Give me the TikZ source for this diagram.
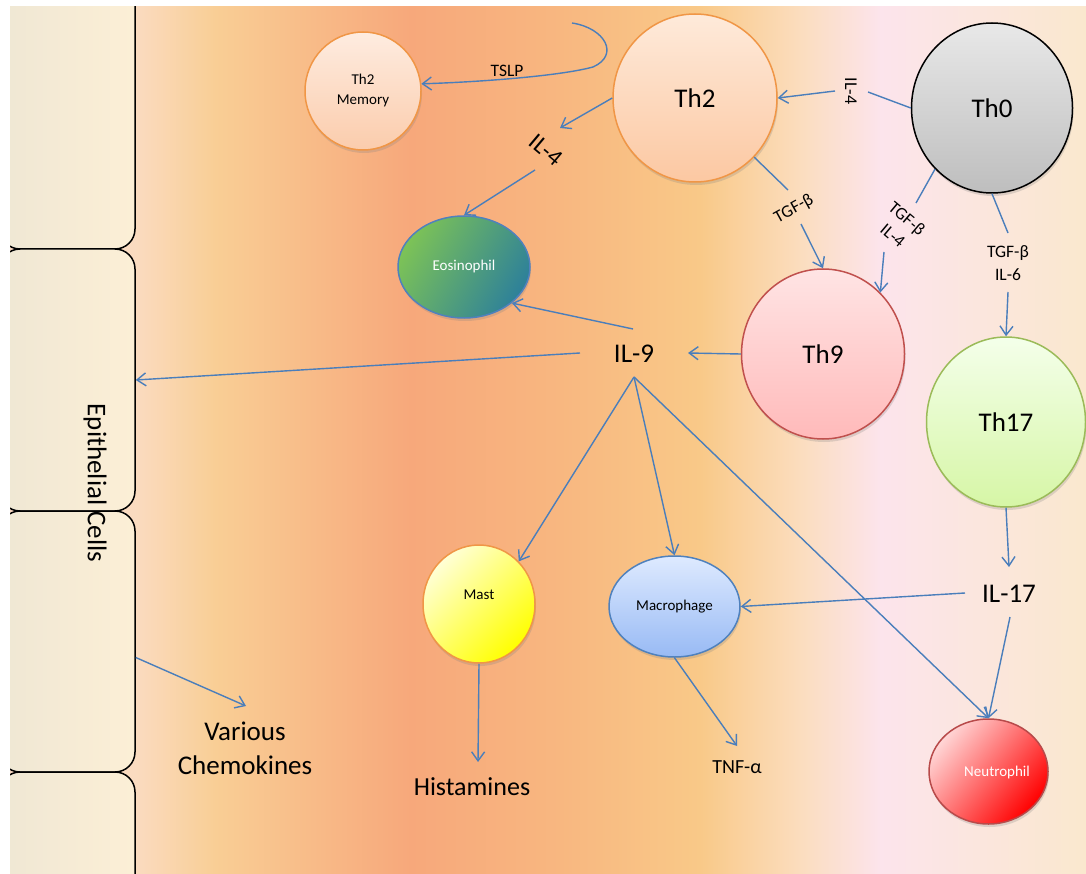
\documentclass[tikz,border=0pt]{standalone}
\usepackage{fontspec}
\setmainfont{Carlito}
\usetikzlibrary{arrows.meta,shapes.geometric,shadows,calc}
\definecolor{arrowblue}{RGB}{74,126,187}
\definecolor{bgA}{HTML}{FAD8C2}
\definecolor{bgB}{HTML}{FADBC0}
\definecolor{bgC}{HTML}{F9CE95}
\definecolor{bgD}{HTML}{F7A87B}
\definecolor{bgE}{HTML}{F8B780}
\definecolor{bgF}{HTML}{F9C988}
\definecolor{bgG}{HTML}{FBDDBE}
\definecolor{bgH}{HTML}{FCE4EC}
\definecolor{bgI}{HTML}{FAE8CE}
\definecolor{cellL}{HTML}{EFE7D4}
\definecolor{cellR}{HTML}{FCEFD6}
\definecolor{orangeb}{RGB}{240,150,70}
\definecolor{thmT}{RGB}{254,236,224}
\definecolor{thmB}{RGB}{251,204,172}
\definecolor{thtwoT}{RGB}{254,234,218}
\definecolor{thtwoB}{RGB}{252,200,162}
\definecolor{thzT}{RGB}{232,232,232}
\definecolor{thzB}{RGB}{190,190,190}
\definecolor{thnT}{RGB}{255,228,228}
\definecolor{thnB}{RGB}{255,186,186}
\definecolor{thnb}{RGB}{192,80,77}
\definecolor{thsT}{RGB}{244,255,234}
\definecolor{thsB}{RGB}{214,246,166}
\definecolor{thsb}{RGB}{155,187,89}
\definecolor{eosG}{RGB}{124,194,87}
\definecolor{eosT}{RGB}{46,129,153}
\definecolor{blueb}{RGB}{79,129,189}
\definecolor{mastT}{RGB}{255,255,214}
\definecolor{mastB}{RGB}{255,255,0}
\definecolor{macT}{RGB}{222,234,255}
\definecolor{macB}{RGB}{152,186,244}
\definecolor{neuT}{RGB}{255,214,214}
\definecolor{neuB}{RGB}{255,0,0}
\definecolor{neub}{RGB}{184,74,74}
\newcommand\fsz[2]{\fontsize{#1pt}{#2pt}\selectfont}
\tikzset{
  arr/.style={draw=arrowblue, line width=1.4pt, -{Straight Barb[length=9pt,width=13pt]}},
  ln/.style={draw=arrowblue, line width=1.4pt},
  cellnode/.style={ellipse, inner sep=0pt, line width=1.5pt,
    drop shadow={shadow xshift=1pt, shadow yshift=-3pt, opacity=0.25}},
  epicell/.style={rectangle, rounded corners=20pt, draw=black, line width=1.5pt,
    left color=cellL, right color=cellR, minimum width=135pt, inner sep=0pt},
  lbl/.style={inner sep=0pt, text=black},
}
\begin{document}
\begin{tikzpicture}[x=1pt,y=-1pt]
\useasboundingbox (0,0) rectangle (1086,874);
\fill[white] (0,0) rectangle (1086,874);
% background
\fill[left color=bgA,right color=bgB] (10,7) rectangle (135.6,874);
\fill[left color=bgB,right color=bgC] (135,7) rectangle (215.6,874);
\fill[left color=bgC,right color=bgD] (215,7) rectangle (410.6,874);
\fill[left color=bgD,right color=bgE] (410,7) rectangle (560.6,874);
\fill[left color=bgE,right color=bgF] (560,7) rectangle (700.6,874);
\fill[left color=bgF,right color=bgG] (700,7) rectangle (800.6,874);
\fill[left color=bgG,right color=bgH] (800,7) rectangle (880.6,874);
\fill[left color=bgH,right color=bgI] (880,7) rectangle (1086,874);
% epithelial cells
\begin{scope}
\clip (10,7) rectangle (1086,874);
\node[epicell, minimum height=279pt] (cell1) at (67.5,109.5) {};
\node[epicell, minimum height=262pt] (cell2) at (67.5,380) {};
\node[epicell, minimum height=261pt] (cell3) at (67.5,641.5) {};
\node[epicell, minimum height=228pt] (cell4) at (67.5,886) {};
\end{scope}
\node[lbl, rotate=-90, font=\fsz{27}{32}] (epi) at (95,483) {Epithelial Cells};
% cells
\node[cellnode, draw=orangeb, top color=thmT, bottom color=thmB, minimum width=116pt, minimum height=118pt, align=center, font=\fsz{15}{20}] (thm) at (363,91) {Th2\\Memory};
\node[cellnode, draw=orangeb, top color=thtwoT, bottom color=thtwoB, minimum width=164pt, minimum height=168pt, font=\fsz{27}{32}] (th2) at (695,98) {Th2};
\node[cellnode, draw=black, top color=thzT, bottom color=thzB, minimum width=161pt, minimum height=170pt, font=\fsz{27}{32}] (th0) at (992,108) {Th0};
\node[cellnode, draw=thnb, top color=thnT, bottom color=thnB, minimum width=163pt, minimum height=170pt, font=\fsz{27}{32}] (th9) at (823,354) {Th9};
\node[cellnode, draw=thsb, top color=thsT, bottom color=thsB, minimum width=159pt, minimum height=170pt, font=\fsz{27}{32}] (th17) at (1006,422) {Th17};
\node[cellnode, draw=blueb, top color=eosG, bottom color=eosT, shading angle=60, minimum width=132pt, minimum height=102pt, text=white, font=\fsz{15}{18}] (eos) at (464,267) {Eosinophil};
\node[cellnode, draw=orangeb, top color=mastT, bottom color=mastB, shading angle=45, minimum width=112pt, minimum height=118pt] (mast) at (479,604) {};
\node[lbl, font=\fsz{15}{18}] (masttxt) at (479,595) {Mast};
\node[cellnode, draw=blueb, top color=macT, bottom color=macB, minimum width=131pt, minimum height=101pt, font=\fsz{15}{18}] (mac) at (674.5,606.5) {Macrophage};
\node[cellnode, draw=neub, top color=neuT, bottom color=neuB, shading angle=50, minimum width=119pt, minimum height=105pt] (neu) at (988.5,771.5) {};
\node[lbl, text=white, font=\fsz{15}{18}] (neutxt) at (997,772) {Neutrophil};
% labels
\node[lbl, font=\fsz{17.5}{21}] (tslp) at (507,71) {TSLP};
\node[lbl, font=\fsz{24}{28}, rotate=-40] (il4b) at (546,150) {IL-4};
\node[lbl, font=\fsz{27}{32}] (il9) at (634,354) {IL-9};
\node[lbl, font=\fsz{27}{32}] (il17) at (1009,594) {IL-17};
\node[lbl, font=\fsz{18}{21}, rotate=-90] (il4a) at (851,91) {IL-4};
\node[lbl, font=\fsz{17.5}{21}, rotate=29] (tgf1) at (794,209) {TGF-β};
\node[lbl, font=\fsz{17.5}{22}, rotate=-40, align=center] (tgf2) at (900,227) {TGF-β\\IL-4};
\node[lbl, font=\fsz{17.5}{23}, align=center] (tgf3) at (1008,263) {TGF-β\\IL-6};
\node[lbl, font=\fsz{26}{31}] (hist) at (472,787) {Histamines};
\node[lbl, font=\fsz{20}{24}] (tnf) at (737,767) {TNF-α};
\node[lbl, font=\fsz{27}{34}, align=center] (chem) at (245,748) {Various\\Chemokines};
\coordinate (tslps) at (572,23);
% connectors
\draw[arr] (tslps) .. controls (605,28) and (620,55) .. (593,67) .. controls (560,76) and (480,82) .. (thm.7);
\draw[arr] (th2.west) -- ($(il4b)+(14,-22)$);
\draw[arr] ($(il4b)+(-11,20)$) -- (eos.north);
\draw[arr] ($(il9)+(-1,-25)$) -- (eos.-37);
\draw[arr] ($(il9)+(-54,-1)$) -- (cell2.east);
\draw[arr] (th9.west) -- ($(il9)+(54,-1)$);
\draw[arr] ($(il9)+(0,23)$) -- (mast.47);
\draw[arr] ($(il9)+(0,23)$) -- (mac.north);
\draw[arr] ($(il9)+(0,23)$) -- (neu.north);
\draw[arr] ($(il17)+(1,23)$) -- (neu.north);
\draw[arr] ($(il17)+(-44,-1)$) -- (mac.east);
\draw[arr] (th17.south) -- ($(il17)+(0,-27)$);
\draw[arr] (mac.south) -- ($(tnf)+(0,-21)$);
\draw[arr] (mast.south) -- ($(hist)+(6,-25)$);
\draw[ln] (th0.south) -- ($(tgf3)+(0,-30)$);
\draw[arr] ($(tgf3)+(0,29)$) -- (th17.north);
\draw[ln] (th0.227) -- ($(tgf2)+(16,-24)$);
\draw[arr] ($(tgf2)+(-16,25)$) -- (th9.47);
\draw[ln] (th2.-45) -- ($(tgf1)+(-6,-19)$);
\draw[arr] ($(tgf1)+(7,15)$) -- (th9.north);
\draw[ln] (th0.west) -- ($(il4a)+(17,1)$);
\draw[arr] ($(il4a)+(-16,0)$) -- (th2.east);
\draw[arr] ($(cell3.east)+(0,16)$) -- ($(chem)+(1,-42)$);
\end{tikzpicture}
\end{document}
